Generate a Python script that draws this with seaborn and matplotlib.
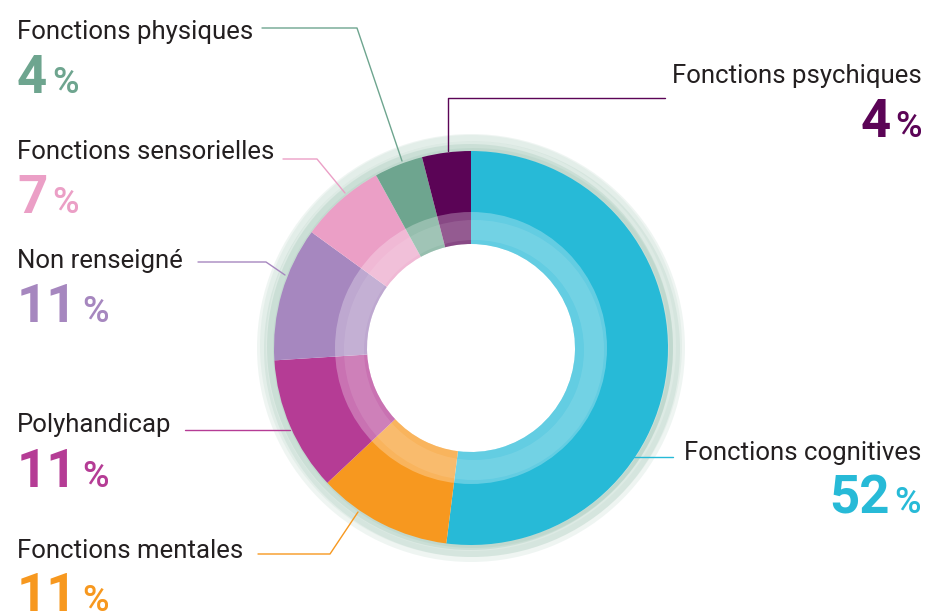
import matplotlib
matplotlib.use("Agg")
import matplotlib.pyplot as plt
from matplotlib.patches import Wedge
import seaborn as sns

# Data
categories = ["Fonctions cognitives", "Fonctions mentales", "Polyhandicap", "Non renseigné",
              "Fonctions sensorielles", "Fonctions physiques", "Fonctions psychiques"]
values = [52, 11, 11, 11, 7, 4, 4]
colors = ["#27bad7", "#f7981f", "#b53c95", "#a687bf", "#eb9fc6", "#6ea58f", "#5b0456"]

sns.set_theme(style="white")
plt.rcParams['font.family'] = ['Roboto', 'DejaVu Sans']
num_font = ['Liberation Sans Narrow', 'Roboto', 'DejaVu Sans']

W, H = 930, 613
fig = plt.figure(figsize=(9.3, 6.13), dpi=100)
ax = fig.add_axes([0, 0, 1, 1])
cx, cy = 471, H - 348
r_out, r_in = 197, 104

# sketchy green ring behind the donut
for dx, dy, rr, w, a in [(0, 0, 214, 18, 0.22), (1, -1, 208, 12, 0.32), (-1, 1, 203, 7, 0.45),
                         (2, 0, 200, 4, 0.5), (0, 2, 211, 6, 0.2)]:
    ax.add_patch(Wedge((cx + dx, cy + dy), rr, 0, 360, width=w, facecolor="#b7d3c7",
                       alpha=a, edgecolor="none"))

ax.pie(values, colors=colors, startangle=90, counterclock=False, radius=r_out,
       center=(cx, cy), wedgeprops=dict(width=r_out - r_in, edgecolor="none", linewidth=0))

# lighter inner band
ax.add_patch(Wedge((cx, cy), 136, 0, 360, width=32, facecolor="white", alpha=0.28, edgecolor="none"))
ax.add_patch(Wedge((cx + 3, cy - 2), 130, 0, 360, width=20, facecolor="white", alpha=0.1, edgecolor="none"))

ax.set_xlim(0, W)
ax.set_ylim(0, H)
ax.set_aspect("equal")
ax.axis("off")

col = dict(zip(categories, colors))
val = dict(zip(categories, values))

# leader lines (pixel coords, y from top)
leaders = {
    "Fonctions physiques": [(262, 28), (357, 28), (402, 161)],
    "Fonctions psychiques": [(665, 98), (448, 98), (448, 151)],
    "Fonctions sensorielles": [(283, 159), (317, 159), (345, 193)],
    "Non renseigné": [(198, 262), (266, 262), (285, 275)],
    "Polyhandicap": [(185, 430), (290, 430)],
    "Fonctions mentales": [(258, 554), (330, 554), (358, 512)],
    "Fonctions cognitives": [(633, 457), (673, 457)],
}
for name, pts in leaders.items():
    ax.plot([p[0] for p in pts], [H - p[1] for p in pts], color=col[name], lw=1)

# label positions: x, label baseline, number baseline, alignment
layout = {
    "Fonctions physiques": (17, 39, 93, "left"),
    "Fonctions sensorielles": (17, 159, 213, "left"),
    "Non renseigné": (17, 268, 322, "left"),
    "Polyhandicap": (17, 432, 487, "left"),
    "Fonctions mentales": (17, 558, 611, "left"),
    "Fonctions psychiques": (922, 83, 137, "right"),
    "Fonctions cognitives": (921, 460, 513, "right"),
}

renderer = fig.canvas.get_renderer()
for name, (x, yl, yn, ha) in layout.items():
    ax.text(x, H - yl, name, ha=ha, va="baseline", fontsize=18.5, color="#231f20")
    c = col[name]
    if ha == "left":
        t = ax.text(x, H - yn, str(val[name]), ha="left", va="baseline", fontsize=38,
                    family=num_font, fontweight="bold", color=c)
        bb = t.get_window_extent(renderer)
        ax.text(bb.x1 + 5, H - yn, "%", ha="left", va="baseline", fontsize=26,
                fontweight="medium", color=c)
    else:
        p = ax.text(x, H - yn, "%", ha="right", va="baseline", fontsize=26,
                    fontweight="medium", color=c)
        bb = p.get_window_extent(renderer)
        ax.text(bb.x0 - 5, H - yn, str(val[name]), ha="right", va="baseline", fontsize=38,
                family=num_font, fontweight="bold", color=c)

fig.savefig("out.png", dpi=100)
